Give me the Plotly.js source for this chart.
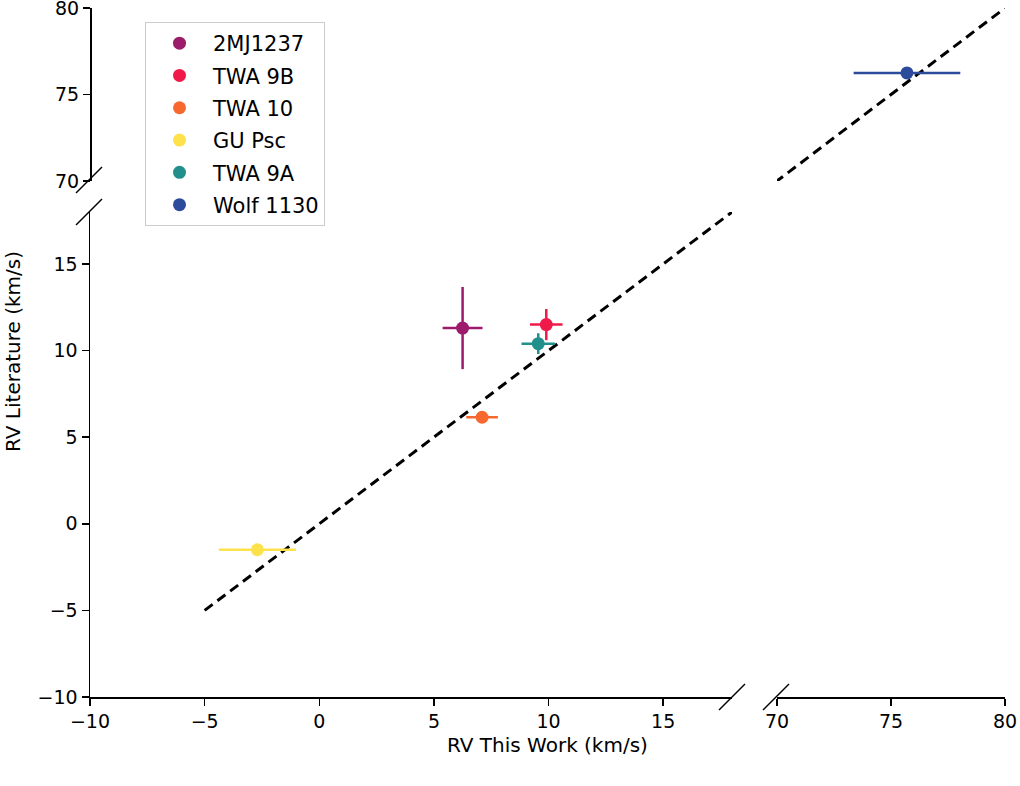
<!DOCTYPE html>
<html>
<head>
<meta charset="utf-8">
<script src="https://cdn.plot.ly/plotly-3.0.1.min.js"></script>
<style>html,body{margin:0;padding:0;background:#fff;}#chart{width:1020px;height:786px;}</style>
</head>
<body>
<div id="chart"></div>
<script>
// Data
const names = ["2MJ1237", "TWA 9B", "TWA 10", "GU Psc", "TWA 9A", "Wolf 1130"];
const rvThisWork = [6.25, 9.9, 7.1, -2.7, 9.55, 75.7];
const rvThisWorkErr = [0.87, 0.71, 0.69, 1.68, 0.73, 2.34];
const rvLit = [11.3, 11.5, 6.15, -1.5, 10.4, 76.25];
const rvLitErr = [2.37, 0.9, 0.2, 0.3, 0.6, 0.2];
const colors = ["#9c1c6b", "#ef1a4a", "#f7682f", "#fde24c", "#21908d", "#2d4b9b"];
const onRightPanel = [false, false, false, false, false, true];
const oneToOneX = [-5, 80];
const oneToOneY = [-5, 80];
const xTicksLeft = [-10, -5, 0, 5, 10, 15];
const xTicksRight = [70, 75, 80];
const yTicksLower = [-10, -5, 0, 5, 10, 15];
const yTicksUpper = [70, 75, 80];

const W = 1020, H = 786;
const px = v => v / W;
const py = v => 1 - v / H;

const traces = [];
// 1:1 line in both panels
traces.push({x: oneToOneX, y: oneToOneY, xaxis: 'x', yaxis: 'y', mode: 'lines',
  line: {color: '#000', width: 3, dash: '10px,6px'}, showlegend: false, hoverinfo: 'skip'});
traces.push({x: oneToOneX, y: oneToOneY, xaxis: 'x2', yaxis: 'y2', mode: 'lines',
  line: {color: '#000', width: 3, dash: '10px,6px'}, showlegend: false, hoverinfo: 'skip'});

names.forEach((n, i) => {
  traces.push({
    name: n,
    legendgroup: 'g' + i,
    x: [rvThisWork[i]], y: [rvLit[i]],
    xaxis: onRightPanel[i] ? 'x2' : 'x',
    yaxis: onRightPanel[i] ? 'y2' : 'y',
    mode: 'markers',
    marker: {color: colors[i], size: 13},
    error_x: {type: 'data', array: [rvThisWorkErr[i]], color: colors[i], thickness: 2.5, width: 0},
    error_y: {type: 'data', array: [rvLitErr[i]], color: colors[i], thickness: 2.5, width: 0}
  });
});

const tickFont = {family: 'DejaVu Sans', size: 19, color: '#000'};
const axCommon = {showgrid: false, zeroline: false, showline: true, linecolor: '#000', linewidth: 1.5,
  ticks: 'outside', ticklen: 7, tickwidth: 1.5, tickcolor: '#000', tickfont: tickFont, fixedrange: true,
  ticklabeloverflow: 'allow'};

function brk(cx, cy) {
  return {type: 'line', xref: 'paper', yref: 'paper',
    x0: px(cx - 13), y0: py(cy + 13), x1: px(cx + 13), y1: py(cy - 13),
    line: {color: '#000', width: 1.5}};
}

const layout = {
  width: W, height: H, autosize: false,
  margin: {l: 0, r: 0, t: 0, b: 0},
  paper_bgcolor: '#fff', plot_bgcolor: 'rgba(0,0,0,0)',
  font: {family: 'DejaVu Sans', size: 19, color: '#000'},
  xaxis: Object.assign({}, axCommon, {domain: [px(90), px(732)], range: [-10, 18], anchor: 'y',
    tickvals: xTicksLeft}),
  xaxis2: Object.assign({}, axCommon, {domain: [px(777), px(1005)], range: [70, 80], anchor: 'free',
    position: py(697), tickvals: xTicksRight}),
  yaxis: Object.assign({}, axCommon, {domain: [py(697), py(212)], range: [-10, 18], anchor: 'x',
    tickvals: yTicksLower}),
  yaxis2: Object.assign({}, axCommon, {domain: [py(181), py(8)], range: [70, 80], anchor: 'free',
    position: px(90), tickvals: yTicksUpper}),
  showlegend: true,
  legend: {x: px(145), y: py(22), xanchor: 'left', yanchor: 'top',
    traceorder: 'grouped', tracegroupgap: 2, itemwidth: 57,
    bgcolor: '#fff', bordercolor: '#cccccc', borderwidth: 1,
    font: {family: 'DejaVu Sans', size: 21, color: '#000'}},
  shapes: [brk(732, 697), brk(776, 697), brk(89, 180), brk(89, 212)],
  annotations: [
    {text: 'RV This Work (km/s)', xref: 'paper', yref: 'paper', x: px(547), y: py(745),
     xanchor: 'center', yanchor: 'middle',
     showarrow: false, font: {family: 'DejaVu Sans', size: 20, color: '#000'}},
    {text: 'RV Literature (km/s)', xref: 'paper', yref: 'paper', x: px(13), y: py(352),
     xanchor: 'center', yanchor: 'middle',
     showarrow: false, textangle: -90, font: {family: 'DejaVu Sans', size: 20, color: '#000'}}
  ]
};

Plotly.newPlot('chart', traces, layout, {displayModeBar: false, staticPlot: true});
</script>
</body>
</html>
